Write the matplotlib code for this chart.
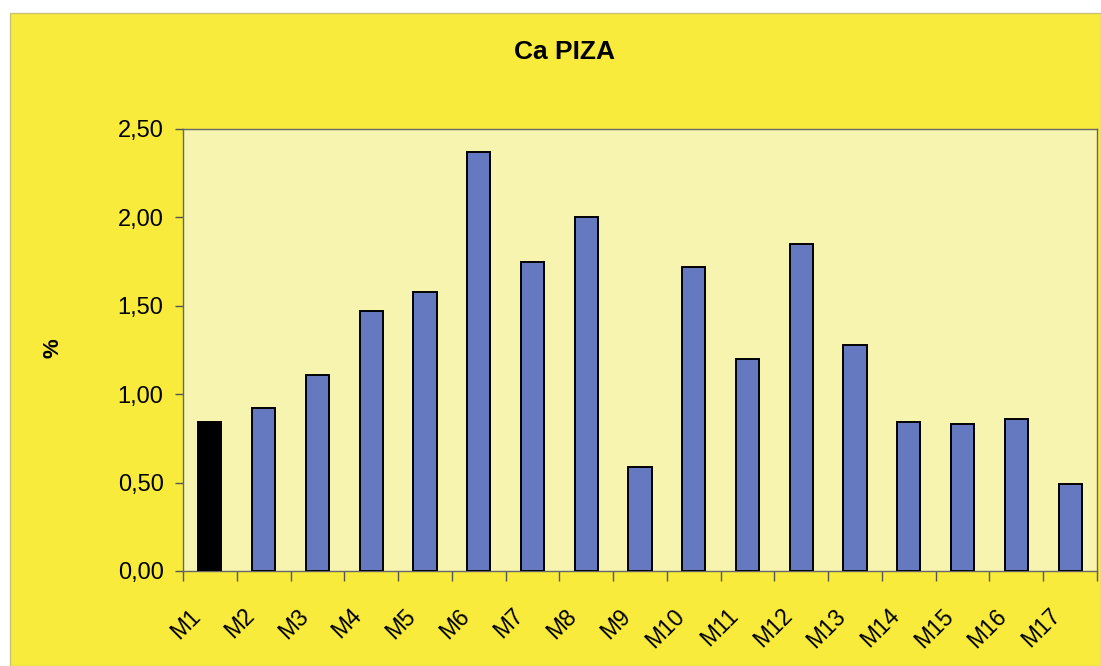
import numpy as np
import matplotlib.pyplot as plt
import matplotlib.transforms as mtransforms
from matplotlib.patches import Rectangle
from matplotlib.ticker import FuncFormatter

samples = ['M1', 'M2', 'M3', 'M4', 'M5', 'M6', 'M7', 'M8', 'M9',
           'M10', 'M11', 'M12', 'M13', 'M14', 'M15', 'M16', 'M17']
ca_pct = [0.84, 0.92, 1.11, 1.47, 1.58, 2.37, 1.75, 2.00, 0.59,
          1.72, 1.20, 1.85, 1.28, 0.84, 0.83, 0.86, 0.49]
bar_colors = ['black'] + ['#6479BF'] * (len(samples) - 1)

plt.rcParams['font.family'] = ['Liberation Sans', 'DejaVu Sans']

fig = plt.figure(figsize=(11.01, 6.66), dpi=100)
fig.patch.set_facecolor('white')
# yellow chart area
fig.patches.append(Rectangle((10 / 1101, 0), 1 - 10 / 1101, 1 - 13 / 666,
                             transform=fig.transFigure, facecolor='#F9EB3B',
                             edgecolor='#C9C27A', linewidth=1, zorder=-1))

ax = fig.add_axes([183 / 1101, 1 - 571 / 666, (1097 - 183) / 1101, (571 - 129) / 666])
ax.set_facecolor('#F7F4B0')

x = np.arange(len(samples))
ax.bar(x, ca_pct, width=0.43, color=bar_colors, edgecolor='black', linewidth=1.4, zorder=3)

ax.set_xlim(-0.5, len(samples) - 0.5)
ax.set_ylim(0, 2.5)
ax.set_yticks(np.arange(0, 2.51, 0.5))
ax.yaxis.set_major_formatter(FuncFormatter(lambda v, p: f'{v:.2f}'.replace('.', ',')))
ax.tick_params(axis='y', length=6, width=1, color='#555555', labelsize=17, pad=8)

# tick marks between categories, labels under bars
ax.set_xticks(np.arange(-0.5, len(samples), 1), minor=True)
ax.set_xticks(x)
ax.set_xticklabels(samples, rotation=45, ha='right', va='top', rotation_mode='anchor', fontsize=16.5)
ax.tick_params(axis='x', which='major', length=0, pad=24)
ax.tick_params(axis='x', which='minor', length=7, width=1, color='#555555')
offset = mtransforms.ScaledTranslation(-21 / 100, 0, fig.dpi_scale_trans)
for lbl in ax.get_xticklabels():
    lbl.set_transform(lbl.get_transform() + offset)

for s in ax.spines.values():
    s.set_color('#666666')
    s.set_linewidth(1)

fig.text(564 / 1101, 1 - 52 / 666, 'Ca PIZA', ha='center', va='center', fontsize=19, weight='bold')
fig.text(53 / 1101, 1 - 348 / 666, '%', ha='center', va='center', rotation=90, fontsize=16, weight='bold')

plt.savefig('out.png', dpi=100)
